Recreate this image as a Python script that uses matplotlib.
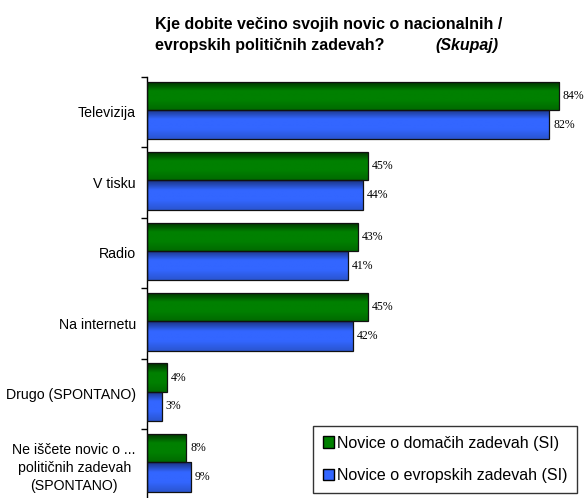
import matplotlib
matplotlib.use("Agg")
import numpy as np
import matplotlib.pyplot as plt
from matplotlib.colors import LinearSegmentedColormap
from matplotlib.patches import Patch

# Data
categories = ["Televizija", "V tisku", "Radio", "Na internetu",
              "Drugo (SPONTANO)",
              "Ne iščete novic o ...\npolitičnih zadevah\n(SPONTANO)"]
domestic = [84, 45, 43, 45, 4, 8]
european = [82, 44, 41, 42, 3, 9]
series_names = ["Novice o domačih zadevah (SI)",
                "Novice o evropskih zadevah (SI)"]

GREEN = "#008000"
BLUE = "#3366ff"

plt.rcParams['font.family'] = ['Liberation Sans', 'DejaVu Sans']

fig = plt.figure(figsize=(5.85, 4.98), dpi=100)
ax = fig.add_axes([147 / 585, -0.003, 1 - 147 / 585, 0.849])


def shade(bars, dark, mid, low):
    # vertical gradient inside each bar, dark on top like the original
    cmap = LinearSegmentedColormap.from_list("g", [dark, mid, mid, low])
    grad = np.linspace(0, 1, 64).reshape(-1, 1)
    for b in bars:
        x0, y0 = b.get_x(), b.get_y()
        w, h = b.get_width(), b.get_height()
        im = ax.imshow(grad, cmap=cmap, aspect="auto", origin="upper",
                       extent=(x0, x0 + w, y0 + h, y0), zorder=2)
        im.set_clip_path(b)
        b.set_facecolor("none")
        b.set_zorder(3)


pos = np.arange(len(categories))
g_bars = ax.barh(pos + 0.27, domestic, height=0.40, color=GREEN,
                 edgecolor="#111111", linewidth=0.9)
b_bars = ax.barh(pos + 0.68, european, height=0.42, color=BLUE,
                 edgecolor="#111111", linewidth=0.9)
shade(g_bars, "#003000", GREEN, "#006a00")
shade(b_bars, "#1a337f", BLUE, "#2a55d0")

for p, d, e in zip(pos, domestic, european):
    ax.text(d + 0.8, p + 0.27, "%d%%" % d, va="center", ha="left",
            fontsize=8.5, family="Liberation Serif")
    ax.text(e + 0.8, p + 0.68, "%d%%" % e, va="center", ha="left",
            fontsize=8.5, family="Liberation Serif")

ax.set_xlim(0, 89.3)
ax.set_ylim(len(categories), 0)
ax.set_xticks([])
ax.set_yticks(np.arange(len(categories) + 1))
ax.set_yticklabels([])
ax.tick_params(axis="y", length=4, width=1, direction="out")
ax.set_yticks(pos + 0.5, minor=True)
ax.set_yticklabels(categories, minor=True, fontsize=10.2)
ax.tick_params(axis="y", which="minor", length=0, pad=8)
for lbl in ax.get_yticklabels(minor=True):
    lbl.set_horizontalalignment("right")
    lbl.set_multialignment("center")
    lbl.set_linespacing(1.4)
for s in ["top", "right", "bottom"]:
    ax.spines[s].set_visible(False)
ax.spines["left"].set_linewidth(1)

fig.text(155 / 585, 1 - 29 / 498,
         "Kje dobite večino svojih novic o nacionalnih /",
         fontsize=11.5, fontweight="bold", va="baseline", ha="left")
fig.text(155 / 585, 1 - 50 / 498, "evropskih političnih zadevah?",
         fontsize=11.5, fontweight="bold", va="baseline", ha="left")
fig.text(435 / 585, 1 - 50 / 498, "(Skupaj)", fontsize=11.5,
         fontweight="bold", style="italic", va="baseline", ha="left")

handles = [Patch(facecolor=GREEN, edgecolor="black"),
           Patch(facecolor=BLUE, edgecolor="black")]
leg = fig.legend(handles, series_names, loc="upper left",
                 bbox_to_anchor=(313 / 585, 1 - 426 / 498),
                 fontsize=11.5, frameon=True, fancybox=False,
                 edgecolor="black", handlelength=0.7, handleheight=0.7,
                 handletextpad=0.2, labelspacing=1.1, borderpad=0.6,
                 borderaxespad=0)
leg.get_frame().set_linewidth(1)

fig.savefig("out.png", dpi=100)
